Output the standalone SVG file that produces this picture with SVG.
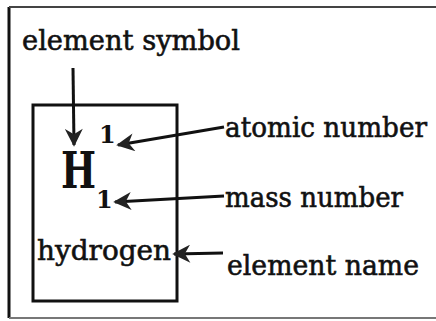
<svg xmlns="http://www.w3.org/2000/svg" width="436" height="321" viewBox="0 0 436 321">
<style>
.lbl{font-family:"DejaVu Serif","Liberation Serif",serif;font-size:28px;fill:#111;stroke:#111;stroke-width:0.6;}
.big{font-family:"DejaVu Serif","Liberation Serif",serif;font-weight:bold;fill:#111;}
.conn{stroke:#111;stroke-width:3;fill:none;}
</style>
<defs>
<marker id="ah" viewBox="0 0 10 10" refX="9" refY="5" markerWidth="7" markerHeight="6" markerUnits="strokeWidth" orient="auto">
<path d="M0,0 L10,5 L0,10 L3,5 Z" fill="#222"/>
</marker>
</defs>
<rect x="0" y="0" width="436" height="321" fill="#fff"/>
<g id="frame">
<line x1="9" y1="7" x2="9" y2="318" stroke="#111" stroke-width="3"/>
<line x1="9" y1="7" x2="436" y2="7" stroke="#444" stroke-width="2"/>
<line x1="9" y1="318" x2="436" y2="318" stroke="#777" stroke-width="2"/>
</g>
<g id="card">
<rect x="33" y="105" width="144" height="196" fill="none" stroke="#111" stroke-width="3"/>
<text class="big" x="61" y="188" font-size="50" textLength="35" lengthAdjust="spacingAndGlyphs">H</text>
<text class="big" x="99" y="143" font-size="24">1</text>
<text class="big" x="96" y="208" font-size="24">1</text>
<text class="lbl" x="37" y="260" textLength="134" lengthAdjust="spacingAndGlyphs">hydrogen</text>
</g>
<g id="label-symbol"><text class="lbl" x="22" y="50" textLength="218" lengthAdjust="spacingAndGlyphs">element symbol</text></g>
<g id="label-atomic"><text class="lbl" x="225" y="137" textLength="202" lengthAdjust="spacingAndGlyphs">atomic number</text></g>
<g id="label-mass"><text class="lbl" x="225" y="207" textLength="178" lengthAdjust="spacingAndGlyphs">mass number</text></g>
<g id="label-name"><text class="lbl" x="227" y="275" textLength="192" lengthAdjust="spacingAndGlyphs">element name</text></g>
<g id="connectors">
<line class="conn" x1="73" y1="68" x2="74" y2="145" marker-end="url(#ah)"/>
<line class="conn" x1="224" y1="127" x2="118" y2="145" marker-end="url(#ah)"/>
<line class="conn" x1="224" y1="196" x2="115" y2="202" marker-end="url(#ah)"/>
<line class="conn" x1="223" y1="253" x2="174" y2="254" marker-end="url(#ah)"/>
</g>
</svg>
